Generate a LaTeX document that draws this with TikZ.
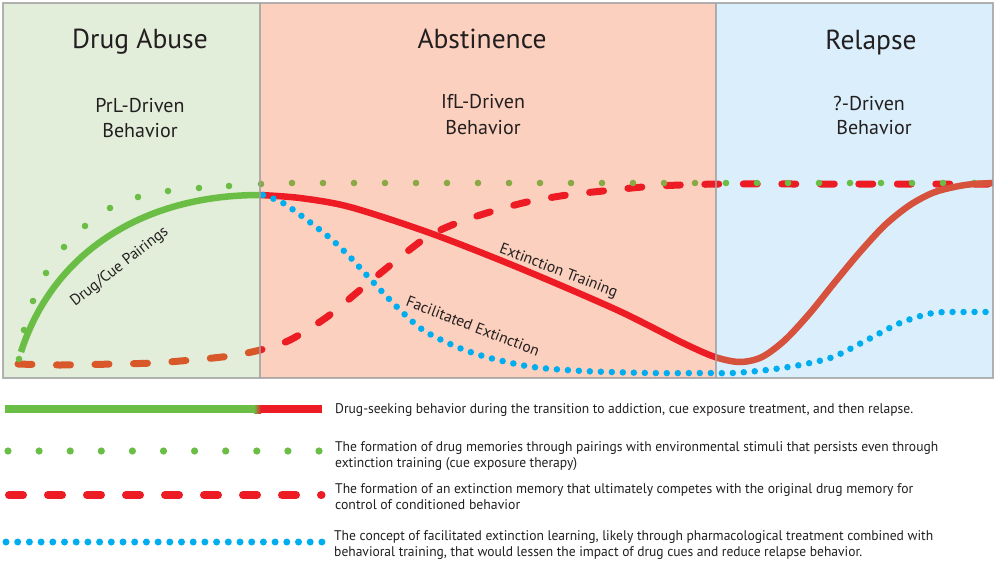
\documentclass[tikz,border=0pt]{standalone}
\usepackage{fontspec}
\usepackage{graphicx}
\setmainfont{PT Sans}
\definecolor{pgreen}{RGB}{226,238,217}
\definecolor{psalmon}{RGB}{252,208,190}
\definecolor{pblue}{RGB}{218,238,251}
\definecolor{cgreen}{RGB}{106,189,69}
\definecolor{colive}{RGB}{138,168,68}
\definecolor{cred}{RGB}{237,28,36}
\definecolor{corange}{RGB}{216,88,42}
\definecolor{crelapse}{RGB}{214,82,60}
\definecolor{cblue}{RGB}{0,174,239}
\definecolor{cborder}{RGB}{160,160,160}
\definecolor{ctext}{RGB}{35,31,32}
\newcommand\fitw[2]{\resizebox{#1}{\height}{#2}}
\newcommand\drawGreenDots[1]{%
  \foreach \px/\py in {19/359,24/330,33/301,46/273,64/247,85/226,110/208,138/197,168/191,199/188,229/186,261/184}
    {\fill[#1] (\px,\py) circle (3.3);}
  \foreach \i in {0,...,22}
    {\fill[#1] ({292+31*\i},183) circle (3.3);}
}
\newcommand\dashedPath{plot[smooth] coordinates {(18,364) (60,365) (115,364) (153,363) (192,360) (230,356) (260,350) (290,340) (327,317) (360,290) (393,263) (427,237) (457,223) (490,212) (527,202) (567,195) (603,191) (643,187) (680,185) (723,184) (800,184) (993,184)}}
\newcommand\redPath{plot[smooth] coordinates {(260,195) (300,198) (350,207) (430,233) (517,267) (617,310) (683,343) (715,357) (740,362) (762,357) (785,340) (810,313) (835,282) (860,252) (885,225) (910,205) (935,192) (965,185) (993,183)}}
\begin{document}
\begin{tikzpicture}[x=1pt,y=-1pt,
  title/.style={font=\fontsize{27.5}{27.5}\selectfont, text=ctext, inner sep=0, anchor=base},
  subtitle/.style={font=\fontsize{20}{20}\selectfont, text=ctext, inner sep=0, anchor=base},
  curvelabel/.style={font=\fontsize{15.5}{15.5}\selectfont, text=ctext, inner sep=0, anchor=base},
  legtext/.style={font=\fontsize{14}{14}\selectfont, text=ctext, inner sep=0, anchor=base west},
  dashline/.style={line width=7pt, line cap=round, dash pattern=on 14pt off 24.5pt},
  dotline/.style={line width=6.5pt, line cap=round, dash pattern=on 0pt off 11pt},
  solidline/.style={line width=6.5pt}]
\useasboundingbox (0,0) rectangle (996,562);
\fill[white] (0,0) rectangle (996,562);
% panels
\fill[pgreen] (3,3) rectangle (260,378);
\fill[psalmon] (260,3) rectangle (716,378);
\fill[pblue] (716,3) rectangle (993,378);
% titles
\node[title] (t1) at (140,48) {Drug Abuse};
\node[title] (t2) at (482,48) {Abstinence};
\node[title] (t3) at (871,49) {Relapse};
\node[subtitle] (s1a) at (140,112) {PrL-Driven};
\node[subtitle] (s1b) at (140,137) {Behavior};
\node[subtitle] (s2a) at (483,108) {IfL-Driven};
\node[subtitle] (s2b) at (483,134) {Behavior};
\node[subtitle] (s3a) at (869,110) {?-Driven};
\node[subtitle] (s3b) at (874,134) {Behavior};
% red dashed extinction memory
\begin{scope}
  \clip (0,0) rectangle (260,380);
  \draw[dashline, corange] \dashedPath;
\end{scope}
\begin{scope}
  \clip (260,0) rectangle (996,380);
  \draw[dashline, cred] \dashedPath;
\end{scope}
% green dots
\begin{scope}
  \clip (0,0) rectangle (260,380);
  \drawGreenDots{cgreen}
\end{scope}
\begin{scope}
  \clip (260,0) rectangle (716,380);
  \drawGreenDots{colive}
\end{scope}
\begin{scope}
  \clip (716,0) rectangle (996,380);
  \drawGreenDots{cgreen}
\end{scope}
% solid behaviour curve
\draw[solidline, cgreen] (21,352) .. controls (52,255) and (140,195) .. (260,195);
\begin{scope}
  \clip (259,0) rectangle (716,380);
  \draw[solidline, cred] \redPath;
\end{scope}
\begin{scope}
  \clip (716,0) rectangle (996,380);
  \draw[solidline, crelapse] \redPath;
\end{scope}
% blue dotted facilitated extinction
\draw[dotline, cblue] plot[smooth] coordinates {(263,195) (283,203) (307,220) (330,238) (350,257) (373,282) (397,307) (423,330) (457,347) (490,358) (533,367) (583,371) (650,373) (707,373) (733,373) (767,370) (800,365) (833,357) (867,340) (900,323) (933,313) (967,312) (993,312)};
% panel borders
\draw[cborder, line width=1.5pt, opacity=0.8] (3,3) rectangle (993,378);
\draw[cborder, line width=1.5pt, opacity=0.8] (260,3) -- (260,378);
\draw[cborder, line width=1.5pt, opacity=0.8] (716,3) -- (716,378);
% curve labels
\node[curvelabel, rotate=38] (lcue) at (122,270) {Drug/Cue Pairings};
\node[curvelabel, rotate=-21] (lext) at (557,275) {Extinction Training};
\node[curvelabel, rotate=-21] (lfac) at (471,331) {Facilitated Extinction};
% legend
\fill[cgreen] (5,405) rectangle (254,413);
\shade[left color=cgreen, right color=cred] (254,405) rectangle (261,413);
\fill[cred] (261,405) rectangle (322,413);
\foreach \i in {0,...,10} {\fill[cgreen] ({8+31.1*\i},451) circle (3.6);}
\draw[cred, line width=8pt, line cap=round, dash pattern=on 14pt off 25pt] (9,495) -- (321.5,495);
\draw[cblue, line width=7pt, line cap=round, dash pattern=on 0pt off 11.7pt] (6,542) -- (322.5,542);
\node[legtext] (l1) at (335,413) {\fitw{578pt}{Drug-seeking behavior during the transition to addiction, cue exposure treatment, and then relapse.}};
\node[legtext] (l2a) at (335,451) {\fitw{603pt}{The formation of drug memories through pairings with environmental stimuli that persists even through}};
\node[legtext] (l2b) at (335,467) {\fitw{242pt}{extinction training (cue exposure therapy)}};
\node[legtext] (l3a) at (335,493) {\fitw{578pt}{The formation of an extinction memory that ultimately competes with the original drug memory for}};
\node[legtext] (l3b) at (335,509) {\fitw{185pt}{control of conditioned behavior}};
\node[legtext] (l4a) at (334,540) {\fitw{599pt}{The concept of facilitated extinction learning, likely through pharmacological treatment combined with}};
\node[legtext] (l4b) at (334,556) {\fitw{528pt}{behavioral training, that would lessen the impact of drug cues and reduce relapse behavior.}};
\end{tikzpicture}
\end{document}
